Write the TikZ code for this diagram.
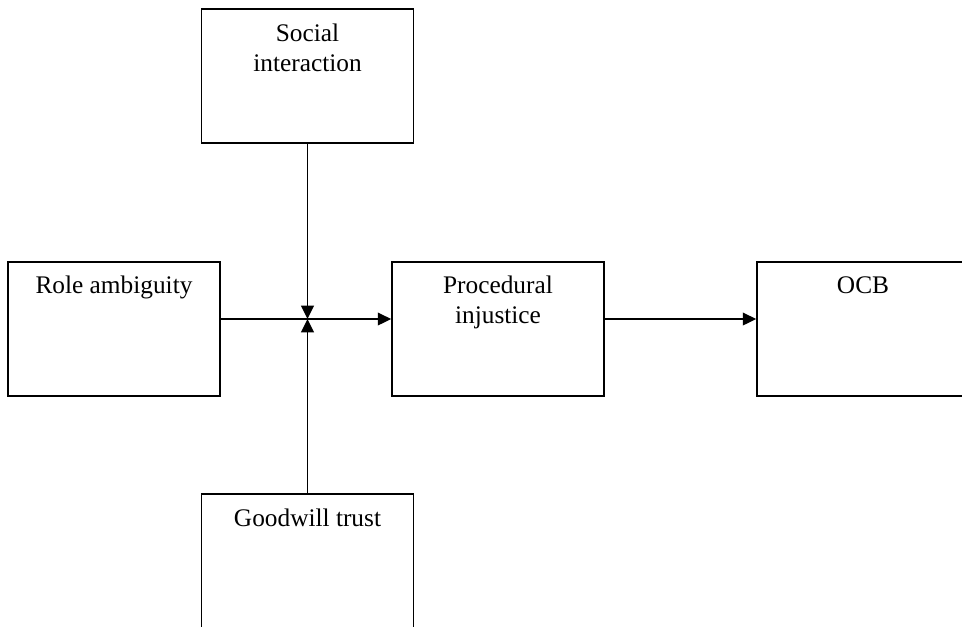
\documentclass[tikz,border=0pt]{standalone}
\usepackage{fontspec}
\setmainfont{Liberation Serif}
\usetikzlibrary{arrows.meta,calc}
\begin{document}
\begin{tikzpicture}[x=0.75pt,y=-0.75pt,
  box/.style={draw,line width=1.3pt,minimum width=159pt,minimum height=100.5pt,inner sep=0pt},
  lbl/.style={anchor=north,inner sep=0pt,align=center,font=\fontsize{19}{22}\selectfont},
  conn/.style={line width=1.3pt,-{Triangle[length=10pt,width=9.5pt]}}]
\clip (0,0) rectangle (962,626);
\fill[white] (0,0) rectangle (962,626);
\node[box] (soc) at (307.5,76) {};
\node[box] (role) at (114,329) {};
\node[box] (proc) at (498,329) {};
\node[box] (ocb) at (863,329) {};
\node[box] (good) at (307.5,561) {};
\node[lbl] (tsoc) at ($(soc.north)+(0,16)$) {Social\\interaction};
\node[lbl] (trole) at ($(role.north)+(0,15)$) {Role ambiguity};
\node[lbl] (tproc) at ($(proc.north)+(0,15)$) {Procedural\\injustice};
\node[lbl] (tocb) at ($(ocb.north)+(0,15)$) {OCB};
\node[lbl] (tgood) at ($(good.north)+(0,16)$) {Goodwill trust};
\coordinate (j) at (307.5,319);
\draw[conn] (role.east |- j) -- (proc.west |- j);
\draw[conn] (soc.south) -- (j);
\draw[conn] (good.north) -- (j);
\draw[conn] (proc.east |- j) -- (ocb.west |- j);
\end{tikzpicture}
\end{document}
